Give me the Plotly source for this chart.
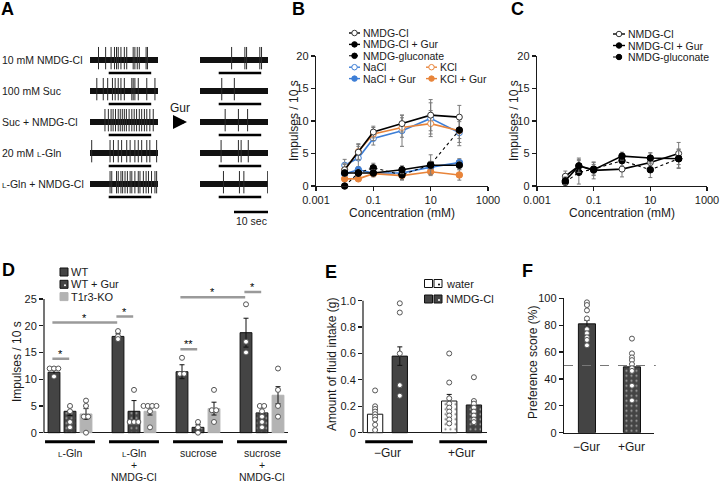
import plotly.graph_objects as go

W, H = 720, 483
FONT = "Liberation Sans, Arial, Helvetica, sans-serif"
INK = "#1a1a1a"
DARK = "#444444"
LIGHT = "#b3b3b3"
SIG = "#9a9a9a"
BLUE = "#3d7ed6"
ORANGE = "#e8843a"
SC_L = "<span style='font-size:8px'>L</span>"

# ---------------- Panel A: spike times (s) of each recording ----------------
a_labels = ["10 mM NMDG-Cl", "100 mM Suc", "Suc + NMDG-Cl",
            "20 mM " + SC_L + "-Gln", SC_L + "-Gln + NMDG-Cl"]
a_spikes_before = [
    [2.5, 4.6, 6.2, 7.2, 7.8, 8.3, 9.1, 10.1, 10.8, 12.7, 13.2, 13.9, 14.5, 16.5, 16.9],
    [2.0, 3.9, 5.2, 6.6, 7.4, 8.3, 9.1, 10.1, 12.3, 12.7, 13.2, 14.2, 16.7, 19.1],
    [4.4, 5.4, 6.2, 6.8, 7.5, 8.3, 8.9, 9.5, 10.1, 10.7, 11.5, 12.3, 13.0, 13.7,
     14.5, 15.2, 16.0, 16.7, 17.6, 18.6],
    [0.5, 5.9, 6.9, 8.3, 9.3, 10.8, 11.8, 13.2, 14.2, 15.2, 16.7, 17.6, 19.6],
    [5.9, 6.4, 7.8, 8.3, 9.1, 9.6, 10.3, 11.0, 11.8, 12.3, 13.2, 14.2, 14.7, 15.7,
     16.5, 17.2, 18.1, 19.1, 19.6],
]
a_spikes_gur = [
    [9.3, 13.2, 13.7, 17.6, 18.1],
    [6.4, 10.1],
    [7.4, 11.3, 14.0],
    [6.2, 11.3, 12.1, 14.2],
    [6.9, 11.6, 12.9, 19.9],
]
a_duration = 20.0
a_stim = (5.5, 18.0)
a_scale_sec = 10.0

# ---------------- Panel B / C: concentration-response ----------------
conc = [0.01, 0.03, 0.1, 1, 10, 100]
b_names = ["NMDG-Cl", "NMDG-Cl + Gur", "NMDG-gluconate", "NaCl", "NaCl + Gur", "KCl", "KCl + Gur"]
b_values = {
    "NMDG-Cl":        [2.5, 5.2, 8.3, 9.6, 10.9, 10.6],
    "NMDG-Cl + Gur":  [2.0, 2.0, 2.0, 2.5, 3.2, 3.2],
    "NMDG-gluconate": [0.0, 2.0, 2.8, 1.7, 3.3, 8.6],
    "NaCl":           [3.2, 4.3, 7.3, 8.5, 10.4, 8.2],
    "NaCl + Gur":     [1.9, 2.5, 2.0, 2.0, 2.9, 3.6],
    "KCl":            [2.5, 5.3, 8.0, 9.0, 9.6, 8.5],
    "KCl + Gur":      [1.1, 1.1, 1.9, 1.6, 2.2, 1.7],
}
b_errors = {
    "NMDG-Cl":        [1.0, 1.2, 0.9, 1.3, 2.4, 1.8],
    "NMDG-Cl + Gur":  [0.5, 0.3, 0.5, 0.6, 0.6, 0.6],
    "NMDG-gluconate": [0.2, 0.5, 0.7, 0.8, 1.5, 1.3],
    "NaCl":           [0.9, 1.8, 1.0, 2.4, 2.4, 2.0],
    "NaCl + Gur":     [0.4, 0.5, 0.4, 0.5, 0.5, 0.6],
    "KCl":            [0.8, 1.2, 1.0, 1.5, 2.0, 1.8],
    "KCl + Gur":      [0.4, 0.3, 0.5, 0.6, 0.6, 0.8],
}
c_names = ["NMDG-Cl", "NMDG-Cl + Gur", "NMDG-gluconate"]
c_values = {
    "NMDG-Cl":        [1.5, 3.1, 2.4, 2.6, 3.6, 5.0],
    "NMDG-Cl + Gur":  [0.8, 3.1, 2.5, 4.6, 4.3, 4.2],
    "NMDG-gluconate": [0.6, 2.1, 2.6, 3.9, 2.5, 4.2],
}
c_errors = {
    "NMDG-Cl":        [0.8, 1.2, 1.3, 1.2, 1.5, 1.7],
    "NMDG-Cl + Gur":  [0.6, 1.0, 0.8, 0.6, 0.8, 1.4],
    "NMDG-gluconate": [0.5, 1.8, 1.0, 0.8, 1.2, 1.5],
}
conc_ticks = [0.001, 0.1, 10, 1000]
conc_ticktext = ["0.001", "0.1", "10", "1000"]
imp_ticks = [0, 5, 10, 15, 20]

STYLE = {
    "NMDG-Cl":        dict(color="#000000", filled=False, dash="solid"),
    "NMDG-Cl + Gur":  dict(color="#000000", filled=True, dash="solid"),
    "NMDG-gluconate": dict(color="#000000", filled=True, dash="dot"),
    "NaCl":           dict(color=BLUE, filled=False, dash="solid"),
    "NaCl + Gur":     dict(color=BLUE, filled=True, dash="solid"),
    "KCl":            dict(color=ORANGE, filled=False, dash="solid"),
    "KCl + Gur":      dict(color=ORANGE, filled=True, dash="solid"),
}

# ---------------- Panel D: chorda tympani responses ----------------
d_groups = [[SC_L + "-Gln"], [SC_L + "-Gln", "+", "NMDG-Cl"], ["sucrose"], ["sucrose", "+", "NMDG-Cl"]]
d_conditions = ["WT", "WT + Gur", "T1r3-KO"]
d_means = {"WT": [11.3, 18.0, 11.4, 18.7], "WT + Gur": [4.0, 4.0, 1.0, 3.7], "T1r3-KO": [3.5, 4.0, 4.5, 7.0]}
d_sem = {"WT": [0.7, 0.5, 1.3, 2.7], "WT + Gur": [0.8, 2.0, 0.5, 1.0], "T1r3-KO": [1.0, 0.7, 1.2, 1.6]}
d_points = {
    "WT":       [[12, 12, 12, 10.5], [19, 18, 17.5], [14, 11, 11], [24, 17, 15]],
    "WT + Gur": [[5, 4, 2, 1], [8, 2, 2, 2], [2, 1, 0], [5, 5, 4, 3, 2, 1]],
    "T1r3-KO":  [[6, 5, 3, 3, 0], [5, 5, 5, 5, 4, 1], [8, 4.2, 4.2, 2], [12, 8, 5, 3]],
}
# (group a, condition a, group b, condition b, height, label)
d_sig = [(0, 0, 0, 1, 13.8, "*"), (0, 0, 1, 0, 20.6, "*"), (1, 0, 1, 1, 21.7, "*"),
         (2, 0, 2, 1, 15.6, "**"), (2, 0, 3, 0, 25.3, "*"), (3, 0, 3, 1, 26.3, "*")]
d_ticks = [0, 5, 10, 15, 20, 25]

# ---------------- Panel E: fluid intake ----------------
e_conditions = ["\u2212Gur", "+Gur"]
e_solutions = ["water", "NMDG-Cl"]
e_means = {"water": [0.14, 0.24], "NMDG-Cl": [0.58, 0.21]}
e_sem = {"water": [0.03, 0.05], "NMDG-Cl": [0.07, 0.03]}
e_points = {
    "water": [[0.32, 0.2, 0.18, 0.16, 0.14, 0.12, 0.1, 0.06, 0.02],
              [0.6, 0.38, 0.26, 0.22, 0.19, 0.16, 0.13, 0.1, 0.07]],
    "NMDG-Cl": [[0.98, 0.91, 0.6, 0.36, 0.28],
                [0.42, 0.24, 0.22, 0.19, 0.16, 0.13, 0.1, 0.08]],
}
e_ticks = [0, 0.2, 0.4, 0.6, 0.8, 1.0]
e_ticktext = ["0", "0.2", "0.4", "0.6", "0.8", "1.0"]

# ---------------- Panel F: preference score ----------------
f_conditions = ["\u2212Gur", "+Gur"]
f_means = [81, 49]
f_sem = [2.5, 2.2]
f_points = [[97, 95, 91, 85, 77, 74, 71, 69, 65], [70, 59, 56, 54, 51, 48, 46, 35, 24]]
f_chance = 50
f_ticks = [0, 20, 40, 60, 80, 100]

fig = go.Figure()


def px_x(p):
    return p / W


def px_y(p):
    return 1 - p / H


def spread(vals, tol, step):
    order = sorted(range(len(vals)), key=lambda i: vals[i])
    offs = [0.0] * len(vals)
    groups = []
    for i in order:
        if groups and abs(vals[i] - vals[groups[-1][-1]]) <= tol:
            groups[-1].append(i)
        else:
            groups.append([i])
    for g in groups:
        n = len(g)
        for j, i in enumerate(g):
            offs[i] = (j - (n - 1) / 2) * step
    return offs


PT = dict(symbol="circle", size=5, color="white", line=dict(color="#555555", width=1))

# ---------------- Panel A drawing ----------------
for xa, ya, spikes in (("x", "y", a_spikes_before), ("x2", "y2", a_spikes_gur)):
    bx, by, sx, sy, tx, ty = [], [], [], [], [], []
    for k, spk in enumerate(spikes):
        bx += [0, a_duration, None]
        by += [-k, -k, None]
        tx += [a_stim[0], a_stim[1], None]
        ty += [-k - 0.42, -k - 0.42, None]
        for t in spk:
            sx += [t, t, None]
            sy += [-k - 0.3, -k + 0.42, None]
    fig.add_trace(go.Scatter(x=bx, y=by, xaxis=xa, yaxis=ya, mode="lines",
                             line=dict(color="#111111", width=6), hoverinfo="skip"))
    fig.add_trace(go.Scatter(x=sx, y=sy, xaxis=xa, yaxis=ya, mode="lines",
                             line=dict(color="#2a2a2a", width=1), hoverinfo="skip"))
    fig.add_trace(go.Scatter(x=tx, y=ty, xaxis=xa, yaxis=ya, mode="lines",
                             line=dict(color="#000000", width=2.5), hoverinfo="skip"))
# scale bar
fig.add_trace(go.Scatter(x=[a_duration - a_scale_sec, a_duration], y=[-4.9, -4.9], xaxis="x2", yaxis="y2",
                         mode="lines", line=dict(color="#000000", width=2.5), hoverinfo="skip"))

# ---------------- Panel B/C drawing ----------------
def add_series(names, values, errors, xa, ya):
    for n in names:
        s = STYLE[n]
        edge = s["color"] if (s["filled"] or s["color"] != "#000000") else "#333333"
        fig.add_trace(go.Scatter(
            x=conc, y=values[n], xaxis=xa, yaxis=ya, mode="lines+markers",
            line=dict(color=s["color"], width=1.6 if s["dash"] == "solid" else 1.1, dash=s["dash"]),
            marker=dict(size=6.5 if s["filled"] else 6, color=s["color"] if s["filled"] else "white",
                        line=dict(color=edge, width=1)),
            error_y=dict(type="data", array=errors[n], color="#7a7a7a", thickness=1, width=2),
            cliponaxis=False, hoverinfo="skip"))


add_series(["NaCl", "KCl", "NMDG-Cl", "NaCl + Gur", "KCl + Gur", "NMDG-gluconate", "NMDG-Cl + Gur"],
           b_values, b_errors, "x3", "y3")
add_series(["NMDG-Cl", "NMDG-gluconate", "NMDG-Cl + Gur"], c_values, c_errors, "x4", "y4")

# ---------------- Panel D drawing ----------------
def dpos(g, c):
    return g * 4 + c


for c, cond in enumerate(d_conditions):
    xs = [dpos(g, c) for g in range(len(d_groups))]
    if cond == "WT":
        mk = dict(color=DARK, line=dict(color="#111111", width=1))
    elif cond == "WT + Gur":
        mk = dict(color=DARK, line=dict(color="#111111", width=1),
                  pattern=dict(shape=".", fgcolor="white", bgcolor=DARK, size=5, solidity=0.15))
    else:
        mk = dict(color=LIGHT, line=dict(color=LIGHT, width=1))
    fig.add_trace(go.Bar(x=xs, y=d_means[cond], width=0.74, marker=mk, xaxis="x5", yaxis="y5",
                         error_y=dict(type="data", array=d_sem[cond], color="#111111", thickness=1, width=2.5),
                         hoverinfo="skip"))
for c, cond in enumerate(d_conditions):
    px_, py_ = [], []
    for g in range(len(d_groups)):
        vals = d_points[cond][g]
        offs = spread(vals, 0.35, 0.27)
        px_ += [dpos(g, c) + o for o in offs]
        py_ += vals
    fig.add_trace(go.Scatter(x=px_, y=py_, xaxis="x5", yaxis="y5", mode="markers", marker=PT,
                             cliponaxis=False, hoverinfo="skip"))
for (ga, ca, gb, cb, yv, lab) in d_sig:
    x0, x1 = dpos(ga, ca) - 0.1, dpos(gb, cb) - 0.05
    fig.add_trace(go.Scatter(x=[x0, x1], y=[yv, yv], xaxis="x5", yaxis="y5", mode="lines",
                             line=dict(color=SIG, width=2.5), cliponaxis=False, hoverinfo="skip"))
    fig.add_annotation(x=(x0 + x1) / 2, y=yv, xref="x5", yref="y5", text=lab, showarrow=False,
                       xanchor="center", yanchor="bottom", yshift=-3,
                       font=dict(family=FONT, size=11, color="#000"))
for g, lines in enumerate(d_groups):
    fig.add_trace(go.Scatter(x=[dpos(g, 0) - 0.56, dpos(g, 2) + 0.56], y=[-1.7, -1.7], xaxis="x5", yaxis="y5",
                             mode="lines", line=dict(color="#000", width=3), hoverinfo="skip"))
    for li, txt in enumerate(lines):
        fig.add_annotation(x=dpos(g, 1), y=px_y(452.5 + li * 12), xref="x5", yref="paper", text=txt,
                           showarrow=False, xanchor="center", yanchor="middle",
                           font=dict(family=FONT, size=10.5, color=INK))

# ---------------- Panel E drawing ----------------
def epos(ci, si):
    return ci * 3 + si


for si, sol in enumerate(e_solutions):
    for ci, cond in enumerate(e_conditions):
        base = "white" if sol == "water" else DARK
        mk = dict(color=base, line=dict(color="#111111", width=1))
        if ci == 1:
            mk["pattern"] = dict(shape=".", fgcolor="#000" if sol == "water" else "white",
                                 bgcolor=base, size=5, solidity=0.15)
        fig.add_trace(go.Bar(x=[epos(ci, si)], y=[e_means[sol][ci]], width=0.62, marker=mk,
                             xaxis="x6", yaxis="y6",
                             error_y=dict(type="data", array=[e_sem[sol][ci]], color="#111111",
                                          thickness=1, width=2.5), hoverinfo="skip"))
        vals = e_points[sol][ci]
        fig.add_trace(go.Scatter(x=[epos(ci, si)] * len(vals), y=vals, xaxis="x6", yaxis="y6",
                                 mode="markers", marker=PT, cliponaxis=False, hoverinfo="skip"))
for ci, cond in enumerate(e_conditions):
    fig.add_trace(go.Scatter(x=[epos(ci, 0) - 0.4, epos(ci, 1) + 0.53], y=[-0.068, -0.068],
                             xaxis="x6", yaxis="y6", mode="lines", line=dict(color="#000", width=3),
                             hoverinfo="skip"))
    fig.add_annotation(x=(epos(ci, 0) + epos(ci, 1)) / 2, y=px_y(452.5), xref="x6", yref="paper",
                       text=cond, showarrow=False, xanchor="center", yanchor="middle",
                       font=dict(family=FONT, size=12, color=INK))

# ---------------- Panel F drawing ----------------
for ci, cond in enumerate(f_conditions):
    mk = dict(color=DARK, line=dict(color="#111111", width=1))
    if ci == 1:
        mk["pattern"] = dict(shape=".", fgcolor="white", bgcolor=DARK, size=5, solidity=0.15)
    fig.add_trace(go.Bar(x=[ci], y=[f_means[ci]], width=0.38, marker=mk, xaxis="x7", yaxis="y7",
                         error_y=dict(type="data", array=[f_sem[ci]], color="#111111", thickness=1, width=2.5),
                         hoverinfo="skip"))
    fig.add_trace(go.Scatter(x=[ci] * len(f_points[ci]), y=f_points[ci], xaxis="x7", yaxis="y7",
                             mode="markers", marker=PT, cliponaxis=False, hoverinfo="skip"))
    fig.add_annotation(x=ci, y=px_y(447), xref="x7", yref="paper", text=cond, showarrow=False,
                       xanchor="center", yanchor="middle", font=dict(family=FONT, size=12, color=INK))
fig.add_shape(type="line", xref="x7 domain", yref="y7", x0=0, x1=1.02, y0=f_chance, y1=f_chance,
              line=dict(color="#777777", width=1, dash="dash"))

# ---------------- legends (keys on a pixel overlay) ----------------
def line_key(x0, py, name, length=11):
    s = STYLE[name]
    edge = s["color"] if (s["filled"] or s["color"] != "#000000") else "#333333"
    fig.add_trace(go.Scatter(x=[x0, x0 + length], y=[py, py], xaxis="x8", yaxis="y8", mode="lines",
                             line=dict(color=s["color"], width=1.4 if s["dash"] == "solid" else 1.1,
                                       dash=s["dash"]), cliponaxis=False, hoverinfo="skip"))
    fig.add_trace(go.Scatter(x=[x0 + length / 2], y=[py], xaxis="x8", yaxis="y8", mode="markers",
                             marker=dict(size=5.5, color=s["color"] if s["filled"] else "white",
                                         line=dict(color=edge, width=1)),
                             cliponaxis=False, hoverinfo="skip"))
    fig.add_annotation(x=x0 + length + 1, y=py, xref="x8", yref="y8", text=name, showarrow=False,
                       xanchor="left", yanchor="middle", font=dict(family=FONT, size=10.5, color=INK))


for i, n in enumerate(["NMDG-Cl", "NMDG-Cl + Gur", "NMDG-gluconate", "NaCl", "NaCl + Gur"]):
    line_key(349, 33 + i * 11.4, n)
for i, n in enumerate(["KCl", "KCl + Gur"]):
    line_key(426, 33 + (i + 3) * 11.4, n)
for i, n in enumerate(c_names):
    line_key(613, 34 + i * 11.5, n, length=12)


def square_key(x, py, fill, edge, dot=None):
    fig.add_trace(go.Scatter(x=[x], y=[py], xaxis="x8", yaxis="y8", mode="markers",
                             marker=dict(symbol="square", size=8, color=fill, line=dict(color=edge, width=1)),
                             cliponaxis=False, hoverinfo="skip"))
    if dot:
        fig.add_trace(go.Scatter(x=[x + 1], y=[py + 1], xaxis="x8", yaxis="y8", mode="markers",
                                 marker=dict(symbol="circle", size=2, color=dot, line=dict(width=0)),
                                 cliponaxis=False, hoverinfo="skip"))


d_key_fill = {"WT": (DARK, "#111", None), "WT + Gur": (DARK, "#111", "white"), "T1r3-KO": (LIGHT, LIGHT, None)}
for i, cond in enumerate(d_conditions):
    f_, e_, dt = d_key_fill[cond]
    square_key(64, 272 + i * 12.3, f_, e_, dt)
    fig.add_annotation(x=69, y=272 + i * 12.3, xref="x8", yref="y8", text=cond, showarrow=False,
                       xanchor="left", yanchor="middle", font=dict(family=FONT, size=11, color=INK))
for i, sol in enumerate(e_solutions):
    fill = "white" if sol == "water" else DARK
    dot = "#000" if sol == "water" else "white"
    square_key(428.5, 283.5 + i * 15.5, fill, "#111")
    square_key(438, 283.5 + i * 15.5, fill, "#111", dot)
    fig.add_annotation(x=444, y=283.5 + i * 15.5, xref="x8", yref="y8", text=sol, showarrow=False,
                       xanchor="left", yanchor="middle", font=dict(family=FONT, size=11, color=INK))

# ---------------- text: panel A ----------------
for k, lab in enumerate(a_labels):
    fig.add_annotation(x=0, y=-k, xref="paper", yref="y", text=lab, showarrow=False,
                       xanchor="left", yanchor="middle", font=dict(family=FONT, size=10.5, color=INK))
fig.add_annotation(x=a_duration - a_scale_sec / 2, y=-5.2, xref="x2", yref="y2", text="10 sec",
                   showarrow=False, xanchor="center", yanchor="middle",
                   font=dict(family=FONT, size=10.5, color=INK))
fig.add_annotation(x=px_x(180), y=px_y(108), xref="paper", yref="paper", text="Gur", showarrow=False,
                   xanchor="center", yanchor="middle", font=dict(family=FONT, size=12, color=INK))
fig.add_annotation(x=px_x(187), y=px_y(122), ax=-13, ay=0, xref="paper", yref="paper",
                   axref="pixel", ayref="pixel", text="", showarrow=True, arrowhead=2, arrowsize=0.7,
                   arrowwidth=4, arrowcolor="#000")

# axis titles
def ytitle(xp, yp, text):
    fig.add_annotation(x=px_x(xp), y=px_y(yp), xref="paper", yref="paper", text=text, showarrow=False,
                       xanchor="center", yanchor="middle", textangle=-90,
                       font=dict(family=FONT, size=12, color=INK))


ytitle(294, 121, "Impulses / 10 s")
ytitle(514, 121, "Impulses / 10 s")
ytitle(17, 362, "Impulses / 10 s")
ytitle(332, 365, "Amount of fluid intake (g)")
ytitle(533, 363, "Preference score (%)")
for xc in (402, 622):
    fig.add_annotation(x=px_x(xc), y=px_y(213), xref="paper", yref="paper", text="Concentration (mM)",
                       showarrow=False, xanchor="center", yanchor="middle",
                       font=dict(family=FONT, size=12, color=INK))

# panel letters
for lab, xp, yp in (("A", 7, 9), ("B", 298, 9), ("C", 517, 9), ("D", 8, 270), ("E", 331, 272), ("F", 527, 271)):
    fig.add_annotation(x=px_x(xp), y=px_y(yp), xref="paper", yref="paper", text="<b>%s</b>" % lab,
                       showarrow=False, xanchor="center", yanchor="middle",
                       font=dict(family=FONT, size=18, color="#000"))

# axis-line shapes for D and E (stop at top tick)
fig.add_shape(type="line", xref="x5 domain", yref="y5", x0=0, x1=0, y0=0, y1=25, line=dict(color=INK, width=1.2))
fig.add_shape(type="line", xref="x6 domain", yref="y6", x0=0, x1=0, y0=0, y1=1.0, line=dict(color=INK, width=1.2))

# ---------------- axes ----------------
TF = dict(family=FONT, size=11, color=INK)
AX = dict(showgrid=False, zeroline=False, linecolor=INK, linewidth=1.2, ticks="outside", ticklen=4,
          tickwidth=1.2, tickcolor=INK, tickfont=TF, showline=True, fixedrange=True, automargin=False,
          ticklabeloverflow="allow")
HID = dict(visible=False, fixedrange=True)

ya_dom = [px_y(225), px_y(40)]
bc_ydom = [px_y(186), px_y(56)]
fig.update_layout(
    xaxis=dict(HID, domain=[px_x(90), px_x(158)], range=[0, a_duration], anchor="y"),
    yaxis=dict(HID, domain=ya_dom, range=[-5.32, 0.645], anchor="x"),
    xaxis2=dict(HID, domain=[px_x(200), px_x(268)], range=[0, a_duration], anchor="y2"),
    yaxis2=dict(HID, domain=ya_dom, range=[-5.32, 0.645], anchor="x2"),
    xaxis3=dict(AX, type="log", domain=[px_x(316), px_x(488)], range=[-3, 3], tickvals=conc_ticks,
                ticktext=conc_ticktext, anchor="y3"),
    yaxis3=dict(AX, domain=bc_ydom, range=[0, 20], tickvals=imp_ticks, anchor="x3"),
    xaxis4=dict(AX, type="log", domain=[px_x(537), px_x(707)], range=[-3, 3], tickvals=conc_ticks,
                ticktext=conc_ticktext, anchor="y4"),
    yaxis4=dict(AX, domain=bc_ydom, range=[0, 20], tickvals=imp_ticks, anchor="x4"),
    xaxis5=dict(AX, domain=[px_x(44), px_x(288)], range=[-0.625, 14.625], showline=False, ticks="",
                showticklabels=False, anchor="y5"),
    yaxis5=dict(AX, domain=[px_y(451.4), px_y(285.6)], range=[-3.5, 27.5], tickvals=d_ticks, showline=False,
                zeroline=True, zerolinecolor=INK, zerolinewidth=1.2, anchor="x5"),
    xaxis6=dict(AX, domain=[px_x(363), px_x(487)], range=[-0.49, 4.53], showline=False, ticks="",
                showticklabels=False, anchor="y6"),
    yaxis6=dict(AX, domain=[px_y(445.9), px_y(296.7)], range=[-0.1, 1.03], tickvals=e_ticks,
                ticktext=e_ticktext, showline=False, zeroline=True, zerolinecolor=INK, zerolinewidth=1.2,
                anchor="x6"),
    xaxis7=dict(AX, domain=[px_x(564), px_x(654)], range=[-0.51, 1.49], ticks="", showticklabels=False,
                anchor="y7"),
    yaxis7=dict(AX, domain=[px_y(432.7), px_y(298.3)], range=[0, 100], tickvals=f_ticks, anchor="x7"),
    xaxis8=dict(HID, domain=[0, 1], range=[0, W], anchor="y8"),
    yaxis8=dict(HID, domain=[0, 1], range=[H, 0], anchor="x8"),
    width=W, height=H, autosize=False, margin=dict(l=0, r=0, t=0, b=0, pad=0, autoexpand=False),
    paper_bgcolor="white", plot_bgcolor="rgba(0,0,0,0)", showlegend=False, barmode="overlay",
    hovermode=False, font=dict(family=FONT, color=INK),
)

fig.write_html("out.html", config={"displayModeBar": False, "staticPlot": True},
               post_script="document.body.style.margin='0';document.body.style.padding='0';")
